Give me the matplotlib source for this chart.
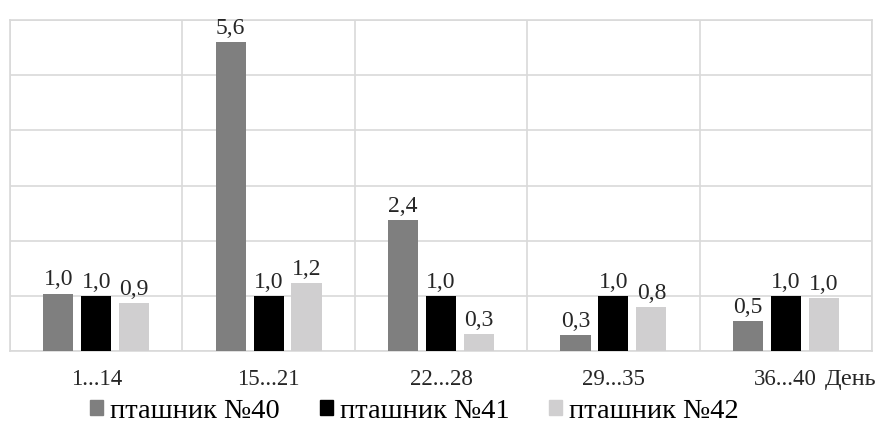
import numpy as np
import matplotlib.pyplot as plt
from matplotlib.patches import Patch

categories = ['1...14', '15...21', '22...28', '29...35', '36...40']
series_names = ['пташник №40', 'пташник №41', 'пташник №42']
s40 = [1.04, 5.6, 2.37, 0.29, 0.54]
s41 = [1.0, 1.0, 1.0, 1.0, 1.0]
s42 = [0.87, 1.23, 0.31, 0.8, 0.96]
colors = ['#7f7f7f', '#000000', '#d0cfd0']

plt.rcParams['font.family'] = ['Liberation Serif', 'DejaVu Serif']

fig = plt.figure(figsize=(8.8, 4.28), dpi=100)
ax = fig.add_axes([10 / 880, 77 / 428, 862 / 880, 331 / 428])

x = np.arange(len(categories))
width = 0.175
step = 0.22
for i, (vals, col) in enumerate(zip([s40, s41, s42], colors)):
    bars = ax.bar(x + (i - 1) * step, vals, width, color=col, zorder=3)
    for b, v in zip(bars, vals):
        ax.text(b.get_x() + b.get_width() / 2, v + 0.06,
                f'{v:.1f}'.replace('.', ','), ha='center', va='bottom',
                fontsize=17, color='#262626')

ax.set_xlim(-0.5, len(categories) - 0.5)
ax.set_ylim(0, 6)
ax.set_yticks(np.arange(0, 7, 1))
ax.set_yticklabels([])
ax.set_xticks(x)
ax.set_xticklabels(categories, fontsize=16.5, color='#262626')
ax.set_xticks(np.arange(-0.5, len(categories), 1), minor=True)
ax.tick_params(axis='both', which='both', length=0)
ax.tick_params(axis='x', pad=13)
ax.grid(axis='y', color='#d9d9d9', linewidth=1.2, zorder=0)
ax.grid(axis='x', which='minor', color='#d9d9d9', linewidth=1.2, zorder=0)
for s in ax.spines.values():
    s.set_color('#d9d9d9')
    s.set_linewidth(1.2)

ax.text(1.005, -0.053, 'День', transform=ax.transAxes, ha='right', va='top',
        fontsize=17.5, color='#262626')

handles = [Patch(color=c) for c in colors]
fig.legend(handles, series_names, loc='center', bbox_to_anchor=(0.471, 17 / 428),
           ncol=3, frameon=False, fontsize=20.5, handlelength=0.46, handleheight=0.46,
           handletextpad=0.25, columnspacing=1.4)

fig.savefig('out.png', dpi=100)
